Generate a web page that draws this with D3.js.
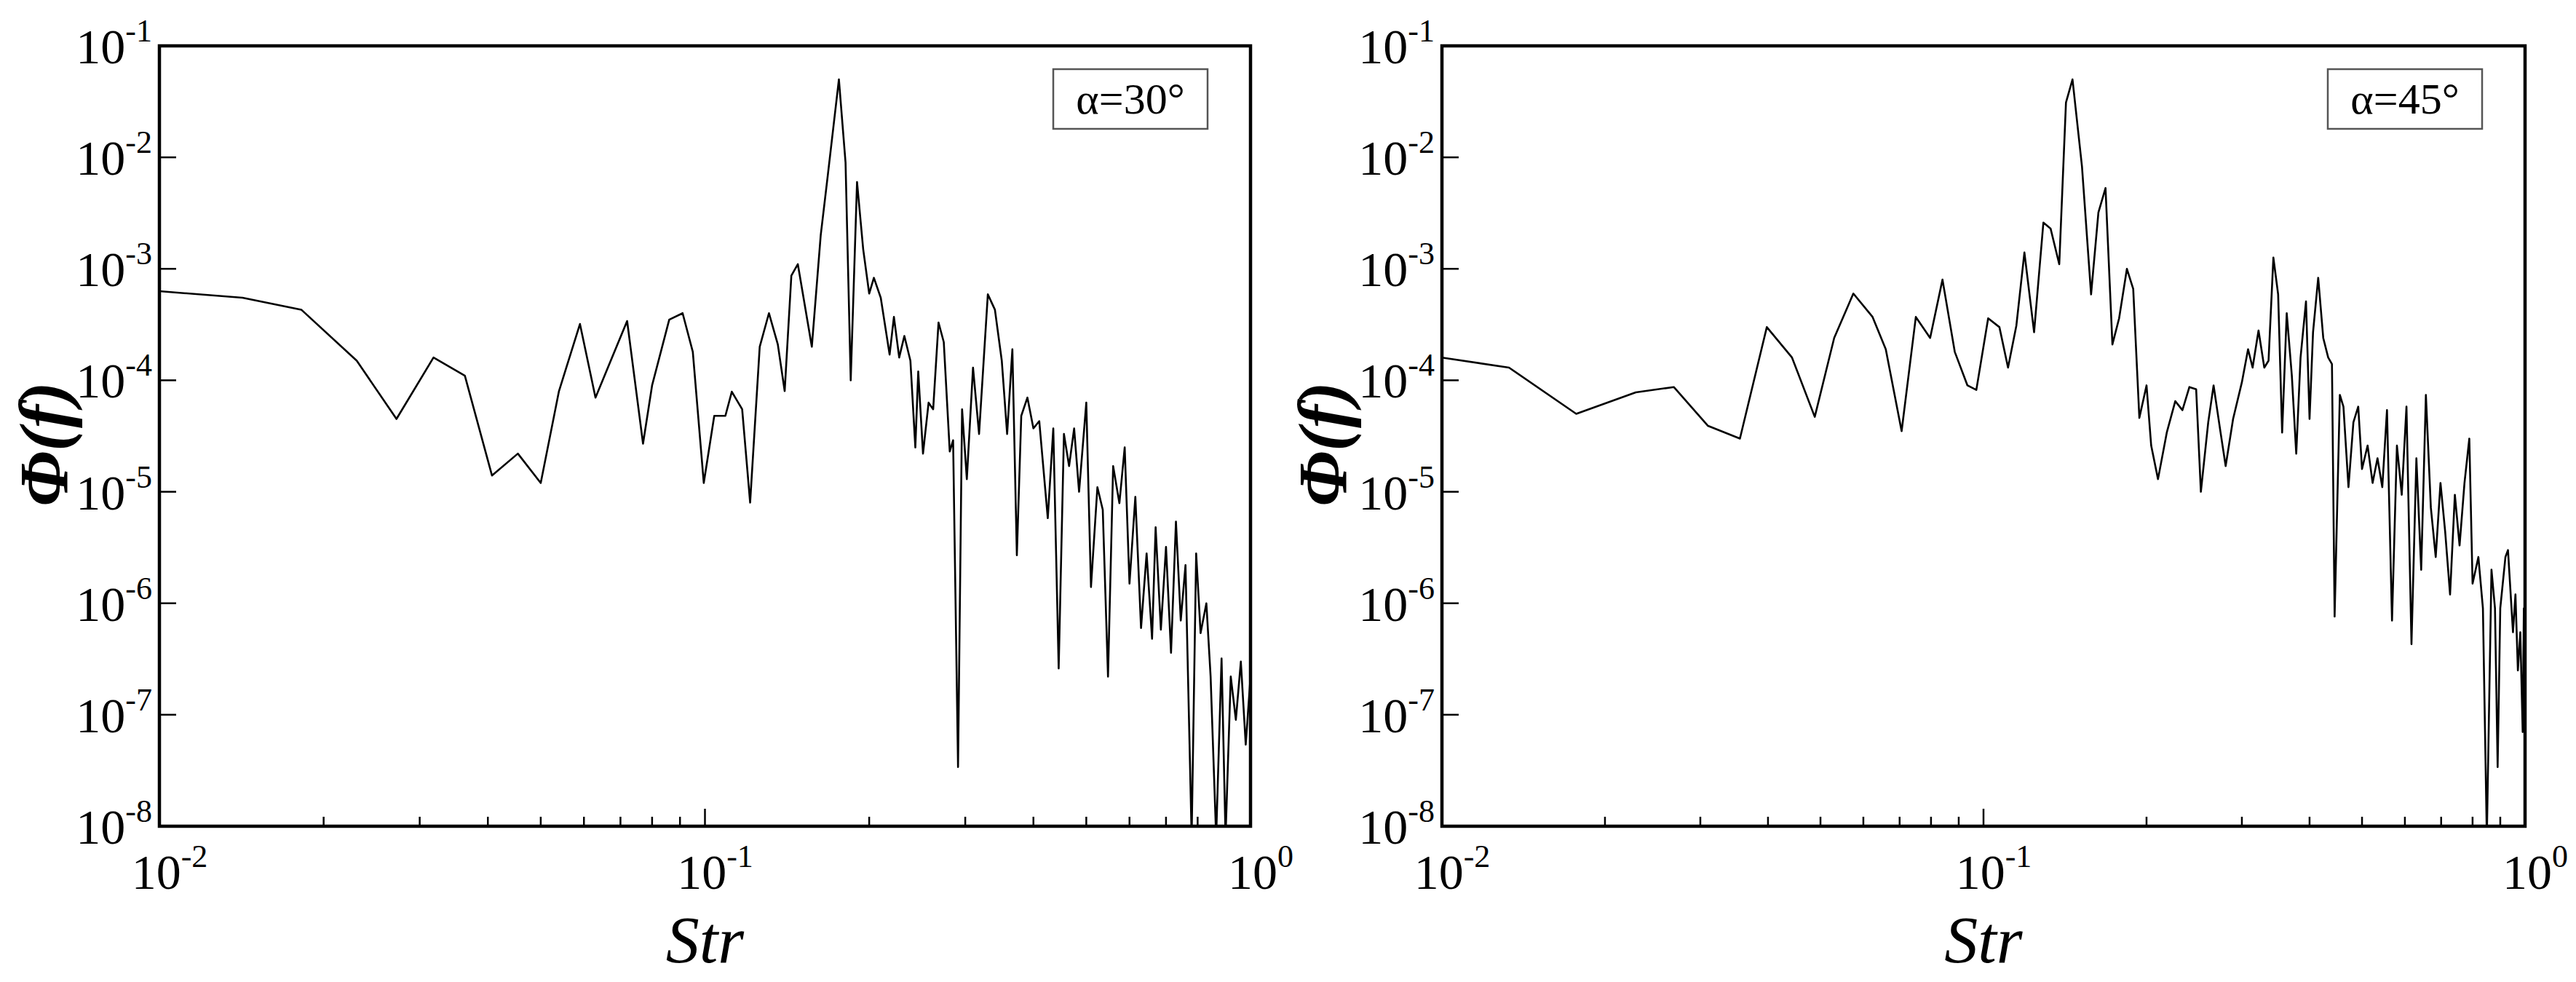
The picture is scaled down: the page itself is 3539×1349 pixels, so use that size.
<!DOCTYPE html>
<html><head><meta charset="utf-8">
<script src="https://cdn.jsdelivr.net/npm/d3@7"></script>
<style>body{margin:0;background:#fff}svg{display:block}text{font-family:"Liberation Serif","Times New Roman",Times,serif}</style>
</head><body>
<script>
const xTicks=[0.01,0.1,1];
const xTickLabels=[["10","-2"],["10","-1"],["10","0"]];
const yTicks=[1e-1,1e-2,1e-3,1e-4,1e-5,1e-6,1e-7,1e-8];
const yTickLabels=[["10","-1"],["10","-2"],["10","-3"],["10","-4"],["10","-5"],["10","-6"],["10","-7"],["10","-8"]];
const panelLabels=["α=30°","α=45°"];

const str30=[0.01,0.0142,0.0182,0.023,0.0272,0.0318,0.0363,0.0407,0.0454,0.05,0.054,0.059,0.063,0.072,0.077,0.08,0.086,0.091,0.095,0.0995,0.104,0.109,0.112,0.117,0.121,0.126,0.131,0.136,0.14,0.144,0.148,0.157,0.163,0.168,0.176,0.181,0.185,0.19,0.195,0.2,0.204,0.21,0.218,0.222,0.227,0.232,0.238,0.243,0.246,0.251,0.257,0.262,0.268,0.274,0.281,0.285,0.291,0.296,0.302,0.31,0.318,0.33,0.34,0.35,0.358,0.366,0.373,0.38,0.39,0.4,0.41,0.425,0.435,0.445,0.455,0.465,0.475,0.485,0.5,0.51,0.524,0.536,0.548,0.56,0.575,0.588,0.6,0.615,0.63,0.645,0.66,0.67,0.685,0.7,0.715,0.73,0.745,0.76,0.78,0.795,0.81,0.83,0.845,0.865,0.885,0.9,0.92,0.94,0.96,0.98,1.0];
const phi30=[6.3e-4,5.5e-4,4.3e-4,1.5e-4,4.5e-5,1.6e-4,1.1e-4,1.4e-5,2.2e-5,1.2e-5,8e-5,3.2e-4,7e-5,3.4e-4,2.7e-5,9e-5,3.5e-4,4e-4,1.8e-4,1.2e-5,4.8e-5,4.8e-5,7.9e-5,5.5e-5,8e-6,2e-4,4e-4,2.1e-4,8e-5,8.7e-4,1.1e-3,2e-4,2e-3,7e-3,5e-2,9e-3,1e-4,6e-3,1.5e-3,6e-4,8.3e-4,5.5e-4,1.7e-4,3.7e-4,1.6e-4,2.5e-4,1.5e-4,2.5e-5,1.2e-4,2.2e-5,6.3e-5,5.5e-5,3.3e-4,2.2e-4,2.3e-5,2.9e-5,3.4e-8,5.5e-5,1.3e-5,1.3e-4,3.3e-5,5.9e-4,4.3e-4,1.5e-4,3.3e-5,1.9e-4,2.7e-6,4.8e-5,7e-5,3.7e-5,4.3e-5,5.8e-6,3.7e-5,2.6e-7,3.3e-5,1.7e-5,3.7e-5,1e-5,6.3e-5,1.4e-6,1.1e-5,6.9e-6,2.2e-7,1.7e-5,7.9e-6,2.5e-5,1.5e-6,9e-6,6e-7,2.8e-6,4.8e-7,4.8e-6,5.8e-7,3.2e-6,3.6e-7,5.4e-6,7e-7,2.2e-6,8e-9,2.8e-6,5.4e-7,1e-6,2.2e-7,8e-9,3.2e-7,8e-9,2.2e-7,9e-8,3e-7,5.4e-8,2.2e-7];

const str45=[0.01,0.0133,0.0177,0.0228,0.0268,0.031,0.0355,0.0398,0.0443,0.0488,0.053,0.0575,0.0624,0.066,0.0706,0.075,0.0797,0.084,0.0885,0.0934,0.097,0.102,0.107,0.111,0.115,0.119,0.124,0.129,0.133,0.138,0.142,0.146,0.152,0.158,0.163,0.168,0.173,0.178,0.184,0.189,0.194,0.2,0.204,0.21,0.218,0.226,0.233,0.24,0.247,0.252,0.26,0.266,0.274,0.28,0.289,0.3,0.308,0.314,0.322,0.33,0.336,0.343,0.35,0.356,0.363,0.371,0.378,0.385,0.394,0.4,0.406,0.415,0.424,0.433,0.44,0.445,0.455,0.462,0.472,0.482,0.492,0.5,0.512,0.523,0.534,0.545,0.556,0.568,0.58,0.592,0.604,0.617,0.63,0.643,0.656,0.67,0.684,0.698,0.712,0.727,0.742,0.757,0.773,0.789,0.8,0.82,0.836,0.85,0.867,0.88,0.89,0.9,0.92,0.93,0.95,0.96,0.97,0.98,0.99,0.995,1.0];
const phi45=[1.6e-4,1.3e-4,5e-5,7.8e-5,8.7e-5,3.9e-5,3e-5,3e-4,1.6e-4,4.7e-5,2.4e-4,6e-4,3.7e-4,1.9e-4,3.5e-5,3.7e-4,2.4e-4,8e-4,1.8e-4,9e-5,8.2e-5,3.6e-4,3e-4,1.3e-4,3.1e-4,1.4e-3,2.7e-4,2.6e-3,2.3e-3,1.1e-3,3.1e-2,5e-2,8.3e-3,5.9e-4,3.2e-3,5.3e-3,2.1e-4,3.6e-4,1e-3,6.6e-4,4.6e-5,9e-5,2.6e-5,1.3e-5,3.4e-5,6.5e-5,5.4e-5,8.7e-5,8.3e-5,1e-5,4.2e-5,9e-5,3.4e-5,1.7e-5,4.5e-5,9.6e-5,1.9e-4,1.3e-4,2.8e-4,1.3e-4,1.5e-4,1.26e-3,5.9e-4,3.4e-5,4e-4,1.1e-4,2.2e-5,1.6e-4,5.1e-4,4.5e-5,2.7e-4,8.3e-4,2.4e-4,1.6e-4,1.4e-4,7.6e-7,7.4e-5,5.8e-5,1.1e-5,4.2e-5,5.8e-5,1.6e-5,2.6e-5,1.2e-5,2e-5,1.1e-5,5.4e-5,7e-7,2.6e-5,9.4e-6,5.8e-5,4.3e-7,2e-5,2e-6,7.4e-5,7.2e-6,2.6e-6,1.2e-5,4.4e-6,1.2e-6,9.4e-6,3.3e-6,1.2e-5,3e-5,1.5e-6,2.6e-6,9e-7,8e-9,2e-6,9e-7,3.4e-8,9e-7,2.6e-6,3e-6,5.5e-7,1.2e-6,2.5e-7,5.5e-7,7e-8,9e-7,4.6e-7];

const W=3539,H=1349;
const svg=d3.select("body").append("svg").attr("width",W).attr("height",H);
const panels=[
 {x0:219,x1:1718,str:str30,phi:phi30,label:panelLabels[0],yl:160},
 {x0:1981,x1:3469,str:str45,phi:phi45,label:panelLabels[1],yl:165}
];
const y0=63,y1=1135;
panels.forEach((p,pi)=>{
  const x=d3.scaleLog().domain([0.01,1]).range([p.x0,p.x1]);
  const y=d3.scaleLog().domain([1e-8,1e-1]).range([y1,y0]);
  const g=svg.append("g");
  const cid="clip"+pi;
  svg.append("clipPath").attr("id",cid).append("rect").attr("x",p.x0).attr("y",y0).attr("width",p.x1-p.x0).attr("height",y1-y0);
  const minor=[];
  [0.01,0.1].forEach(d=>{for(let k=2;k<=9;k++)minor.push(d*k);});
  g.selectAll(".mn").data(minor).enter().append("line")
   .attr("x1",d=>x(d)).attr("x2",d=>x(d)).attr("y1",y1).attr("y2",y1-13)
   .attr("stroke","#000").attr("stroke-width",2.5);
  g.selectAll(".mj").data(xTicks).enter().append("line")
   .attr("x1",d=>x(d)).attr("x2",d=>x(d)).attr("y1",y1).attr("y2",y1-24)
   .attr("stroke","#000").attr("stroke-width",2.5);
  g.selectAll(".ym").data(yTicks).enter().append("line")
   .attr("x1",p.x0).attr("x2",p.x0+23).attr("y1",d=>y(d)).attr("y2",d=>y(d))
   .attr("stroke","#000").attr("stroke-width",2.5);
  const data=p.str.map((s,i)=>[s,Math.max(p.phi[i],5e-9)]);
  g.append("path").datum(data).attr("clip-path",`url(#${cid})`)
   .attr("d",d3.line().x(d=>x(d[0])).y(d=>y(d[1])))
   .attr("fill","none").attr("stroke","#000").attr("stroke-width",2.6).attr("stroke-linejoin","round");
  g.append("rect").attr("x",p.x0).attr("y",y0).attr("width",p.x1-p.x0).attr("height",y1-y0)
   .attr("fill","none").attr("stroke","#000").attr("stroke-width",4.5);
  yTicks.forEach((v,i)=>{
    const t=g.append("text").attr("x",p.x0-10).attr("y",y(v)+24).attr("text-anchor","end")
      .attr("font-size",68);
    t.append("tspan").text(yTickLabels[i][0]);
    t.append("tspan").attr("dy",-30).attr("font-size",44).text(yTickLabels[i][1]);
  });
  xTicks.forEach((v,i)=>{
    const t=g.append("text").attr("x",x(v)+14).attr("y",y1+86).attr("text-anchor","middle")
      .attr("font-size",68);
    t.append("tspan").text(xTickLabels[i][0]);
    t.append("tspan").attr("dy",-30).attr("font-size",44).text(xTickLabels[i][1]);
  });
  g.append("text").attr("x",(p.x0+p.x1)/2).attr("y",1322).attr("text-anchor","middle")
   .attr("font-style","italic").attr("font-size",92).text("Str");
  g.append("text").attr("transform",`translate(${p.x0-p.yl},610) rotate(-90)`).attr("text-anchor","middle")
   .attr("dy","0.35em")
   .attr("font-style","italic").attr("font-weight","bold").attr("font-size",96).text("Φ(f)");
  const bx=p.x1-271,by=95;
  g.append("rect").attr("x",bx).attr("y",by).attr("width",212).attr("height",82)
   .attr("fill","#fff").attr("stroke","#555").attr("stroke-width",2.5);
  g.append("text").attr("x",bx+106).attr("y",by+61).attr("text-anchor","middle")
   .attr("font-size",60).text(p.label);
});
</script>
</body></html>
